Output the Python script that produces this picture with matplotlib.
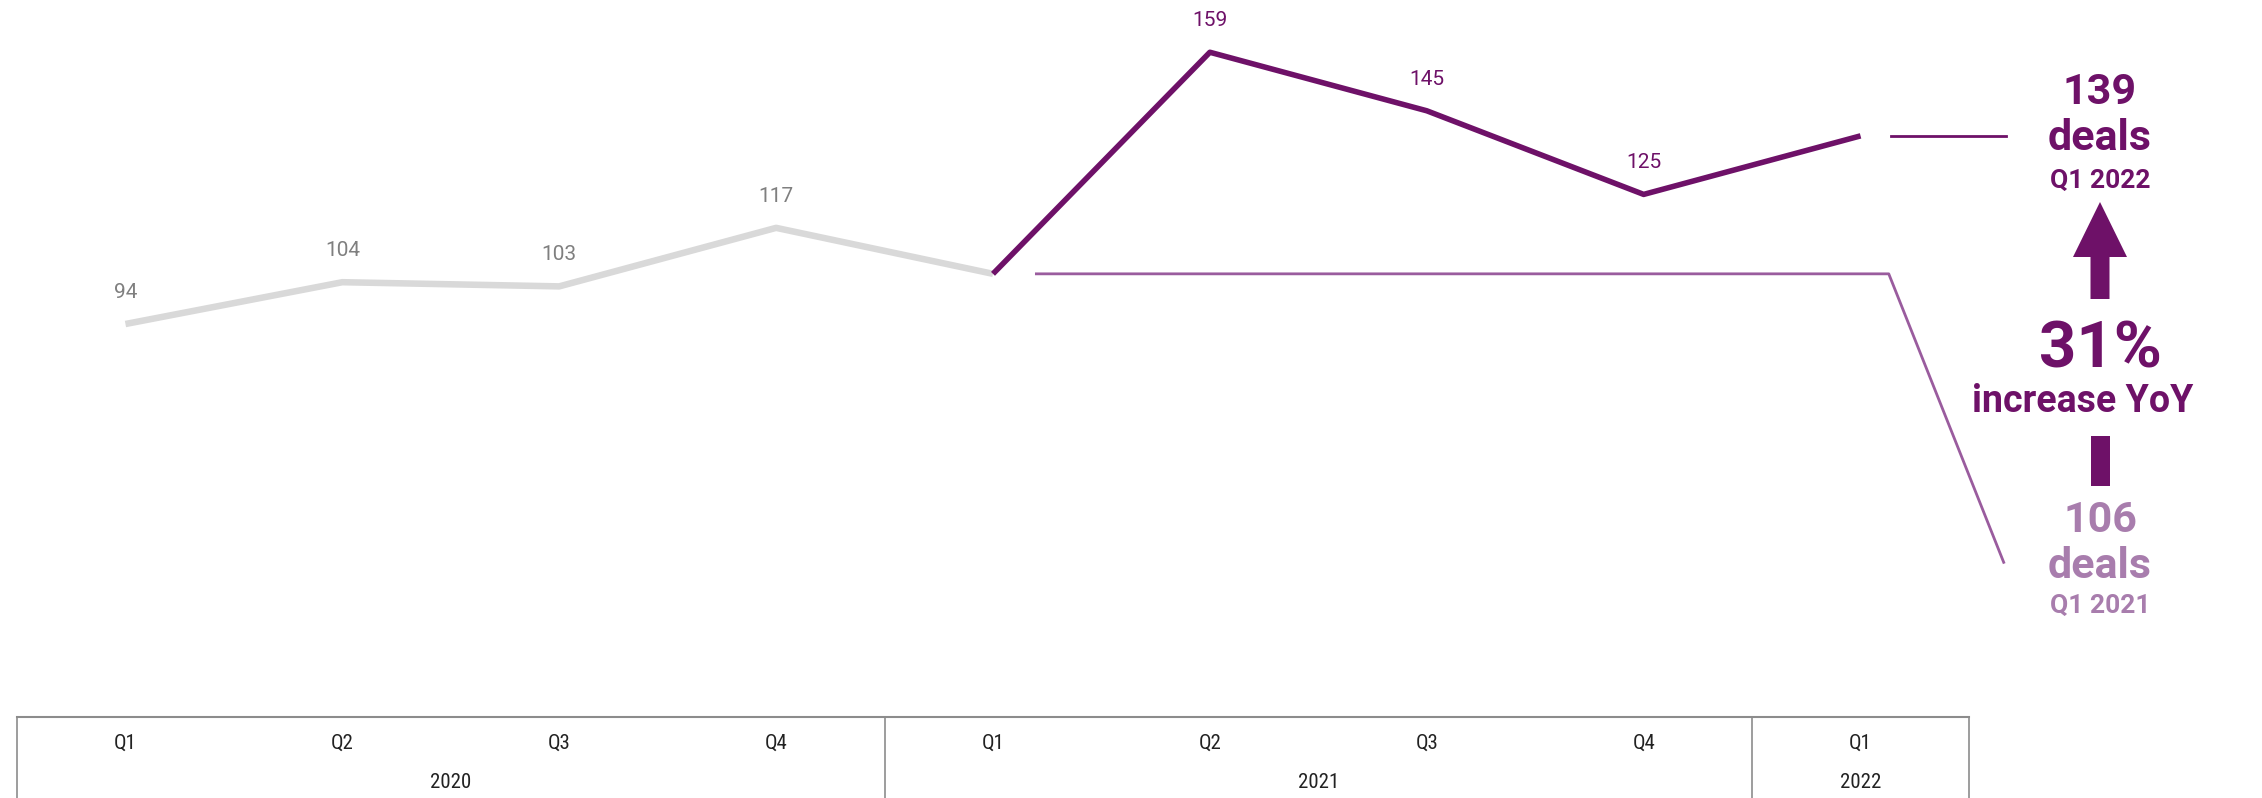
import numpy as np
import matplotlib
matplotlib.use("Agg")
import matplotlib.pyplot as plt
from matplotlib.patches import Polygon, Rectangle
from matplotlib.transforms import blended_transform_factory

# datos
quarters = ["Q1", "Q2", "Q3", "Q4", "Q1", "Q2", "Q3", "Q4", "Q1"]
years = ["2020", "2021", "2022"]
year_span = [(0, 3), (4, 7), (8, 8)]
deals = [94, 104, 103, 117, 106, 159, 145, 125, 139]
prev_end = 4  # Q1 2021, donde empieza la serie morada

gray = "#D9D9D9"
gray_txt = "#7F7F7F"
purple = "#6E1168"
purple_mid = "#9A5C9E"
purple_light = "#A87DAD"
narrow = ["Roboto Condensed", "Liberation Sans Narrow", "Roboto"]

W, H = 2262, 798
fig = plt.figure(figsize=(W / 100, H / 100), dpi=100)
ax = fig.add_axes([17 / W, 1 - 717 / H, (1969 - 17) / W, 717 / H])
ax.set_xlim(-0.5, len(deals) - 0.5)
ax.set_ylim(0, 171.5)
ax.axis("off")

x = np.arange(len(deals))
ax.plot(x[:prev_end + 1], deals[:prev_end + 1], color=gray, lw=4.7, solid_capstyle="butt")
ax.plot(x[prev_end:], deals[prev_end:], color=purple, lw=4.0, solid_capstyle="butt", zorder=3)

for i, v in enumerate(deals):
    if i == prev_end or i == len(deals) - 1:
        continue
    c = gray_txt if i < prev_end else purple
    ax.annotate(str(v), (i, v), xytext=(0, 16), textcoords="offset points",
                ha="center", va="bottom", fontsize=15, color=c, family="Roboto")

# lineas de conexion hacia los textos de la derecha
last = len(deals) - 1
ax.plot([prev_end + 0.2, last + 0.13, last + 0.66], [deals[prev_end], deals[prev_end], 37],
        color=purple_mid, lw=2, clip_on=False)
ax.plot([last + 0.14, last + 0.67], [deals[last], deals[last]], color=purple, lw=2, clip_on=False)

# tabla del eje x
tr = blended_transform_factory(ax.transData, ax.transAxes)
ax.plot([-0.5, last + 0.5], [0, 0], color="#8C8C8C", lw=1.5, transform=tr, clip_on=False)
for b in [-0.5, 3.5, 7.5, 8.5]:
    ax.plot([b, b], [0, -0.12], color="#8C8C8C", lw=1.2, transform=tr, clip_on=False)
for i, q in enumerate(quarters):
    ax.text(i, -26 / 717, q, transform=tr, ha="center", va="center", fontsize=15,
            color="#222222", family=narrow)
for yr, (a, b) in zip(years, year_span):
    ax.text((a + b) / 2, -66 / 717, yr, transform=tr, ha="center", va="center", fontsize=15,
            color="#222222", family=narrow)


def ftxt(px, py, s, **kw):
    fig.text(px / W, 1 - py / H, s, ha="center", va="center", family="Roboto", **kw)


cx = 2100
ftxt(cx, 93, "139", fontsize=31, fontweight="bold", color=purple)
ftxt(cx, 138, "deals", fontsize=31, fontweight="bold", color=purple)
ftxt(cx, 181, "Q1 2022", fontsize=19, fontweight="bold", color=purple)
ftxt(cx, 350, "31%", fontsize=47, fontweight="bold", color=purple)
ftxt(cx - 17, 401, "increase YoY", fontsize=27, fontweight="bold", color=purple)
ftxt(cx, 520, "106", fontsize=31, fontweight="bold", color=purple_light)
ftxt(cx, 566, "deals", fontsize=31, fontweight="bold", color=purple_light)
ftxt(cx, 606, "Q1 2021", fontsize=19, fontweight="bold", color=purple_light)

# flecha
pts = [(cx, 202), (cx + 27, 257), (cx + 9.5, 257), (cx + 9.5, 299),
       (cx - 9.5, 299), (cx - 9.5, 257), (cx - 27, 257)]
fig.add_artist(Polygon([(px / W, 1 - py / H) for px, py in pts], closed=True,
                       transform=fig.transFigure, color=purple, lw=0))
fig.add_artist(Rectangle(((cx - 9.5) / W, 1 - 486 / H), 19 / W, 50 / H,
                         transform=fig.transFigure, color=purple, lw=0))

fig.savefig("out.png", dpi=100)
